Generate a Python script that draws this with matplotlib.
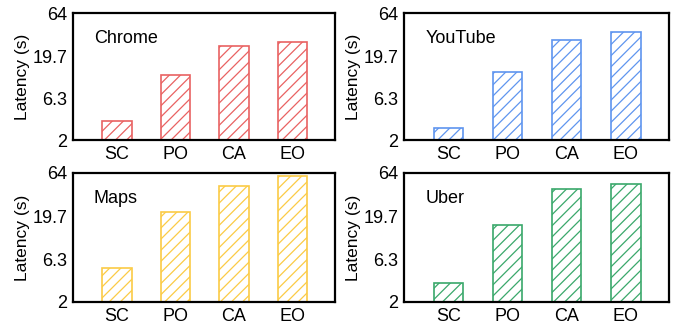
import matplotlib
matplotlib.use('Agg')
import matplotlib.pyplot as plt

plt.rcParams['font.family'] = ['Liberation Sans', 'DejaVu Sans']
plt.rcParams['hatch.linewidth'] = 0.9

## data
modes = ['SC', 'PO', 'CA', 'EO']
apps = ['Chrome', 'YouTube', 'Maps', 'Uber']
chrome = [3.4, 11.7, 25.8, 28.8]
youtube = [2.75, 12.7, 30.4, 37.8]
maps = [5.0, 22.2, 45.2, 58.5]
uber = [3.36, 16.0, 41.6, 47.2]
values = [chrome, youtube, maps, uber]
colors = ['#e96262', '#5f95ef', '#fbcb45', '#3aa86b']
yticks = [2, 6.3, 19.7, 64]
yticklabels = ['2', '6.3', '19.7', '64']

fig = plt.figure(figsize=(6.76, 3.28), dpi=100)
boxes = [[0.108, 0.573, 0.388, 0.387],
         [0.5976, 0.573, 0.392, 0.387],
         [0.108, 0.0793, 0.388, 0.3933],
         [0.5976, 0.0793, 0.392, 0.3933]]

fs = 13
for i in range(4):
	ax = fig.add_axes(boxes[i])
	ax.bar(range(len(modes)), values[i], width=0.5, bottom=0, color='white',
	       edgecolor=colors[i], hatch='///', linewidth=1.2)
	ax.set_yscale('log')
	ax.set_ylim(2, 64)
	ax.set_xlim(-0.75, 3.73)
	ax.set_yticks(yticks)
	ax.set_yticklabels(yticklabels, fontsize=fs)
	ax.minorticks_off()
	ax.set_xticks(range(len(modes)))
	ax.set_xticklabels(modes, fontsize=fs)
	ax.tick_params(length=0, pad=4)
	ax.set_ylabel('Latency (s)', fontsize=12.5, labelpad=2)
	for s in ax.spines.values():
		s.set_linewidth(1.6)
	ax.text(0.08, 0.80, apps[i], transform=ax.transAxes, fontsize=fs, va='center')

plt.savefig('out.png', dpi=100)
